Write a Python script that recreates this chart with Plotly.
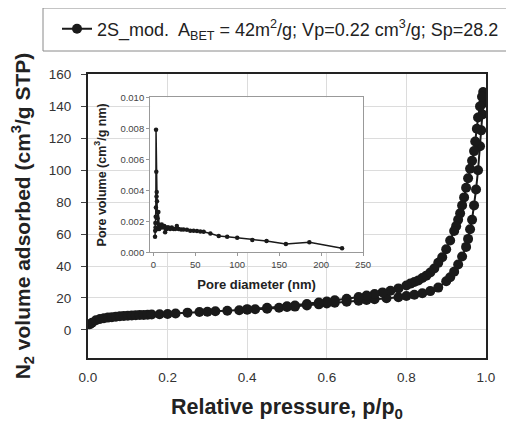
import plotly.graph_objects as go

# Main isotherm: adsorption (lower branch) and desorption (upper branch)
p_ads = [0.005, 0.01, 0.02, 0.03, 0.04, 0.05, 0.06, 0.07, 0.08, 0.09, 0.10, 0.11, 0.12, 0.13,
         0.14, 0.15, 0.16, 0.18, 0.20, 0.22, 0.25, 0.28, 0.30, 0.32, 0.35, 0.38, 0.40, 0.42,
         0.45, 0.48, 0.50, 0.52, 0.55, 0.58, 0.60, 0.62, 0.65, 0.68, 0.70, 0.72, 0.75, 0.78,
         0.80, 0.82, 0.84, 0.86, 0.88, 0.90, 0.91, 0.92, 0.93, 0.94, 0.95, 0.955, 0.96, 0.965,
         0.97, 0.975, 0.98, 0.985, 0.988, 0.991, 0.993, 0.995]
v_ads = [3.5, 4.5, 6.0, 6.8, 7.3, 7.7, 8.0, 8.3, 8.5, 8.7, 8.9, 9.0, 9.2, 9.3,
         9.4, 9.5, 9.6, 9.8, 10.0, 10.3, 10.8, 11.2, 11.4, 11.7, 12.0, 12.3, 12.6, 12.9,
         13.3, 13.9, 14.3, 14.6, 15.3, 16.0, 16.5, 17.0, 17.6, 18.3, 18.7, 19.2, 19.8, 20.5,
         21.2, 22.0, 23.0, 24.3, 26.5, 30.5, 33.0, 36.5, 41.0, 46.0, 52.0, 57.0, 63.0, 69.0,
         78.0, 88.0, 100.0, 115.0, 125.0, 135.0, 142.0, 148.0]
p_des = [0.993, 0.99, 0.985, 0.98, 0.977, 0.973, 0.97, 0.965, 0.96, 0.955, 0.95, 0.945,
         0.94, 0.935, 0.93, 0.925, 0.92, 0.91, 0.90, 0.89, 0.88, 0.87, 0.86, 0.85, 0.84,
         0.83, 0.82, 0.81, 0.80, 0.78, 0.76, 0.74, 0.72, 0.70, 0.68, 0.65, 0.62, 0.60,
         0.58, 0.55, 0.52, 0.50, 0.45, 0.40]
v_des = [149.0, 146.0, 140.0, 133.0, 126.0, 118.0, 112.0, 106.0, 101.0, 95.0, 89.0, 83.0,
         78.0, 73.0, 69.0, 65.0, 62.0, 56.0, 50.5, 45.5, 42.0, 38.5, 36.0, 34.0, 32.5,
         31.0, 30.0, 29.0, 27.8, 26.0, 24.5, 23.5, 22.5, 21.5, 20.6, 19.5, 18.5, 17.8,
         17.2, 16.2, 15.3, 14.8, 13.8, 13.0]

# Inset: pore size distribution
pore_d = [2.0, 2.2, 2.4, 2.6, 2.8, 3.0, 3.2, 3.5, 3.8, 4.0, 4.3, 4.6, 5.0, 5.5, 6.0, 6.5,
          7.0, 8, 9, 10, 11, 12, 13, 14, 15, 16, 17, 18, 20, 22, 24, 26, 28, 30, 33, 36,
          40, 44, 48, 52, 56, 60, 68, 78, 88, 100, 118, 135, 158, 186, 225]
pore_v = [0.0010, 0.0014, 0.0019, 0.0016, 0.0023, 0.0029, 0.0079, 0.0052, 0.0036, 0.0039,
          0.0033, 0.0026, 0.0022, 0.0015, 0.0026, 0.0018, 0.0015, 0.0017, 0.0016, 0.0018,
          0.0017, 0.0016, 0.0017, 0.0013, 0.0016, 0.0015, 0.0016, 0.0016, 0.0015, 0.0016,
          0.0015, 0.0015, 0.0017, 0.0015, 0.00148, 0.00148, 0.00145, 0.0014, 0.0014,
          0.00138, 0.00135, 0.00133, 0.00122, 0.00105, 0.00101, 0.00094, 0.00079, 0.00073,
          0.00054, 0.00065, 0.00026]

legend_label = "2S_mod.  A<sub>BET</sub> = 42m<sup>2</sup>/g; Vp=0.22 cm<sup>3</sup>/g; Sp=28.2"

FONT = "Arial, Liberation Sans, sans-serif"
DARK = "#1a1a1a"

# The page body has an 8px margin, so the figure is 8px smaller and everything is
# laid out 8px up/left of the reference pixel positions.
# plot area (reference pixels): x 88..486, y 74..358
PW, PH = 398.0, 284.0

fig = go.Figure()
fig.add_trace(go.Scatter(
    x=p_ads + p_des, y=v_ads + v_des, mode="lines+markers",
    name=legend_label,
    line=dict(color=DARK, width=2),
    marker=dict(color=DARK, size=10, symbol="circle"),
    xaxis="x", yaxis="y", showlegend=True,
))
fig.add_trace(go.Scatter(
    x=pore_d, y=pore_v, mode="lines+markers",
    line=dict(color=DARK, width=1.5),
    marker=dict(color=DARK, size=4.5),
    xaxis="x3", yaxis="y3", showlegend=False,
))

# legend frame (extends past the right edge, as in the reference)
fig.add_shape(type="rect", xref="paper", yref="paper",
              x0=(43 - 88) / PW, x1=(530 - 88) / PW,
              y0=(358 - 51) / PH, y1=(358 - 8) / PH,
              line=dict(color="#8a8a8a", width=1), fillcolor="rgba(0,0,0,0)")

fig.update_layout(
    width=506, height=414,
    margin=dict(l=80, r=28, t=66, b=64, autoexpand=False),
    paper_bgcolor="white", plot_bgcolor="white",
    font=dict(family=FONT, color="#222"),
    showlegend=True,
    legend=dict(
        x=(57 - 88) / PW, y=(358 - 29) / PH,
        xanchor="left", yanchor="middle",
        borderwidth=0, bgcolor="rgba(0,0,0,0)",
        font=dict(size=18, color="#222", family=FONT),
    ),
    xaxis=dict(
        domain=[0, 1], range=[0, 1.0], dtick=0.2, tickformat=".1f",
        showgrid=True, gridcolor="#dcdcdc", gridwidth=1,
        showline=True, linecolor="#222", linewidth=2, mirror=True,
        ticks="", zeroline=False, ticklabelstandoff=6,
        tickfont=dict(size=13.5, color="#333"),
        title=dict(text="<b>Relative pressure, p/p<sub>0</sub></b>",
                   font=dict(size=21.5, color="#222"), standoff=21),
    ),
    yaxis=dict(
        domain=[0, 1], range=[-17.6, 160.3], dtick=20, tick0=0,
        showgrid=True, gridcolor="#dcdcdc", gridwidth=1,
        showline=True, linecolor="#222", linewidth=2, mirror=True,
        ticks="outside", ticklen=5, tickcolor="#444", zeroline=False,
        ticklabelstandoff=7,
        tickfont=dict(size=13.5, color="#333"),
        title=dict(text="<b>N<sub>2</sub> volume adsorbed (cm<sup>3</sup>/g STP)</b>",
                   font=dict(size=21, color="#222"), standoff=20),
    ),
    # white backdrop for the inset chart area (an empty overlapping subplot)
    xaxis2=dict(domain=[0.005, 0.714], anchor="y2", visible=False, range=[0, 1]),
    yaxis2=dict(domain=[0.229, 0.995], anchor="x2", visible=False, range=[0, 1]),
    xaxis3=dict(
        domain=[0.156, 0.691], range=[-3.9, 250], dtick=50, tick0=0, anchor="y3",
        showgrid=False, showline=True, linecolor="#999", linewidth=1, mirror=True,
        ticks="outside", ticklen=3, tickcolor="#999", zeroline=False,
        tickfont=dict(size=9.5, color="#444"),
        title=dict(text="<b>Pore diameter (nm)</b>", font=dict(size=13, color="#222"),
                   standoff=11),
    ),
    yaxis3=dict(
        domain=[0.372, 0.918], range=[0, 0.010], dtick=0.002, anchor="x3",
        tickformat=".3f",
        showgrid=False, showline=True, linecolor="#999", linewidth=1, mirror=True,
        ticks="outside", ticklen=3, tickcolor="#999", zeroline=False,
        tickfont=dict(size=9.5, color="#444"),
        title=dict(text="<b>Pore volume (cm<sup>3</sup>/g nm)</b>",
                   font=dict(size=12.5, color="#222"), standoff=11),
    ),
)

fig.write_html("out.html")
